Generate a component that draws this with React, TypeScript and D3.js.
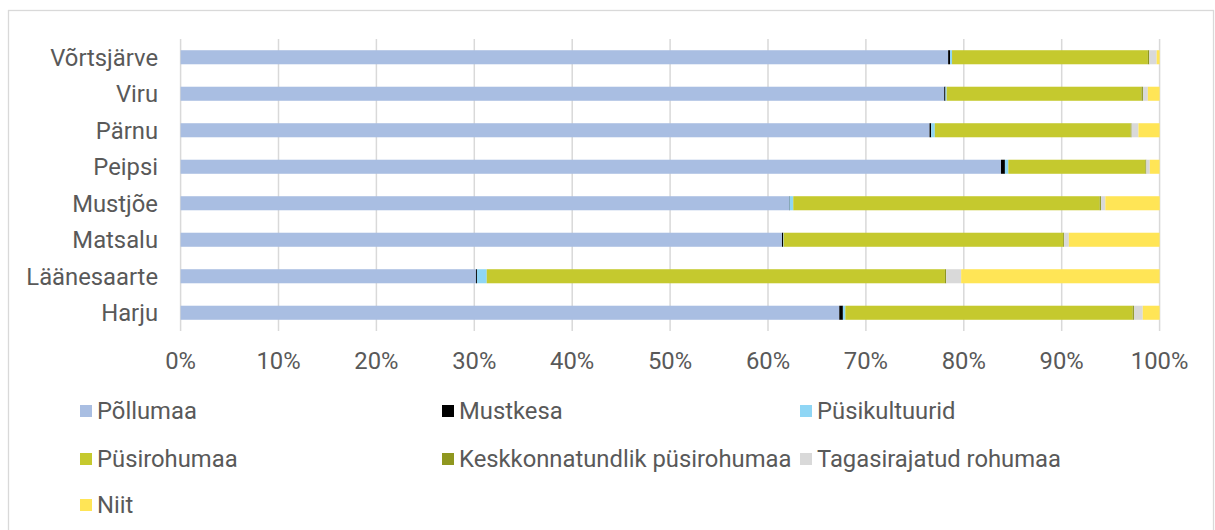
import React from "react";
import * as d3 from "d3";

const categories = ["Võrtsjärve", "Viru", "Pärnu", "Peipsi", "Mustjõe", "Matsalu", "Läänesaarte", "Harju"];
const seriesNames = ["Põllumaa", "Mustkesa", "Püsikultuurid", "Püsirohumaa", "Keskkonnatundlik püsirohumaa", "Tagasirajatud rohumaa", "Niit"];
const colors = ["#a9bee2", "#000000", "#8fd6f5", "#c5c92e", "#8f971f", "#d9d9d9", "#ffe556"];

// values in percent, per category (same order as categories)
const pollumaa = [78.4, 78.0, 76.5, 83.8, 62.15, 61.43, 30.17, 67.28];
const mustkesa = [0.2, 0.13, 0.17, 0.4, 0.05, 0.12, 0.1, 0.37];
const pusikultuurid = [0.2, 0.12, 0.37, 0.35, 0.38, 0.05, 1.0, 0.25];
const pusirohumaa = [20.0, 19.9, 20.0, 14.0, 31.3, 28.55, 46.8, 29.35];
const keskkonnatundlik = [0.15, 0.15, 0.1, 0.1, 0.13, 0.1, 0.13, 0.13];
const tagasirajatud = [0.75, 0.5, 0.7, 0.35, 0.45, 0.48, 1.53, 0.9];
const niit = [0.3, 1.2, 2.16, 1.0, 5.55, 9.27, 20.27, 1.72];

const xTicks = [0, 10, 20, 30, 40, 50, 60, 70, 80, 90, 100];

const W = 1215;
const H = 530;
const FONT = "Roboto, 'Noto Sans', sans-serif";
const FS = 23.8;
const TXT = "#595959";
const GRID = "#d9d9d9";

export default function App() {
  const seriesValues = [pollumaa, mustkesa, pusikultuurid, pusirohumaa, keskkonnatundlik, tagasirajatud, niit];
  const rows = categories.map((c, i) => {
    const r: any = { cat: c };
    seriesNames.forEach((s, j) => (r[s] = seriesValues[j][i]));
    return r;
  });
  const stacked = d3.stack<any>().keys(seriesNames)(rows);

  const x = d3.scaleLinear().domain([0, 100]).range([180.6, 1159.6]);
  const y = d3.scaleBand().domain(categories).range([39, 331]).paddingInner(0.615).paddingOuter(0.3075);

  const legendCols = [80, 442, 800];
  const legendRows = [411, 459, 505];

  return (
    <svg width={W} height={H} style={{ position: "absolute", left: 0, top: 0, background: "#fff" }}>
      <rect x={8.5} y={10.5} width={1205} height={540} fill="#fff" stroke={GRID} strokeWidth={1.3} />
      {/* gridlines */}
      {xTicks.map((t) => (
        <line key={t} x1={x(t)} x2={x(t)} y1={39} y2={331} stroke={GRID} strokeWidth={1.5} />
      ))}
      {/* bars */}
      {stacked.map((layer, j) => (
        <g key={layer.key} fill={colors[j]}>
          {layer.map((d, i) => (
            <rect
              key={i}
              x={x(d[0])}
              width={Math.max(0, x(d[1]) - x(d[0]))}
              y={y(categories[i])}
              height={y.bandwidth()}
            />
          ))}
        </g>
      ))}
      {/* x tick labels */}
      {xTicks.map((t) => (
        <text key={t} x={x(t)} y={361} dy="0.35em" textAnchor="middle" fontFamily={FONT} fontSize={FS} fill={TXT}>
          {t + "%"}
        </text>
      ))}
      {/* category labels */}
      {categories.map((c) => (
        <text
          key={c}
          x={158}
          y={(y(c) as number) + y.bandwidth() / 2}
          dy="0.35em"
          textAnchor="end"
          fontFamily={FONT}
          fontSize={FS}
          fill={TXT}
        >
          {c}
        </text>
      ))}
      {/* legend */}
      {seriesNames.map((s, j) => {
        const cx = legendCols[j % 3];
        const cy = legendRows[Math.floor(j / 3)];
        return (
          <g key={s}>
            <rect x={cx} y={cy - 6} width={12} height={12} fill={colors[j]} />
            <text x={cx + 17} y={cy} dy="0.35em" fontFamily={FONT} fontSize={FS} fill={TXT}>
              {s}
            </text>
          </g>
        );
      })}
    </svg>
  );
}
